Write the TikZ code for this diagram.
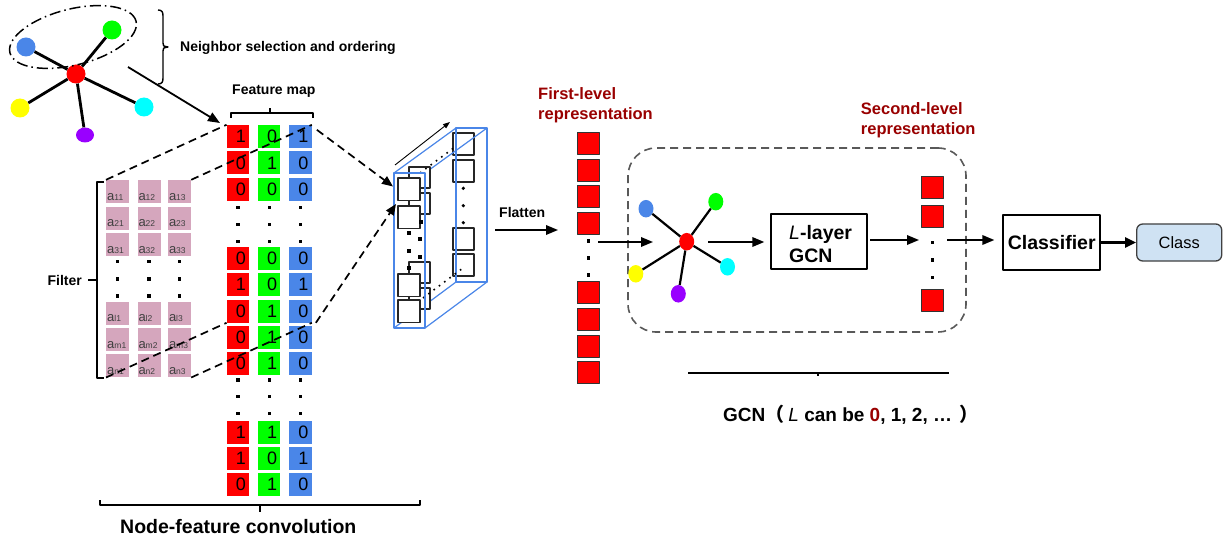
\documentclass[tikz,border=0pt]{standalone}
\usepackage{fontspec}
\setmainfont{Liberation Sans}
\newfontfamily\cjk{Noto Sans CJK SC}
\usetikzlibrary{arrows.meta,shapes.geometric}
\definecolor{cR}{HTML}{FF0000}
\definecolor{cG}{HTML}{00FF00}
\definecolor{cB}{HTML}{4A86E8}
\definecolor{cP}{HTML}{D5A6BD}
\definecolor{cY}{HTML}{FFFF00}
\definecolor{cC}{HTML}{00FFFF}
\definecolor{cV}{HTML}{9900FF}
\definecolor{dred}{HTML}{990000}
\definecolor{lblue}{HTML}{CFE2F3}
\definecolor{boxgray}{HTML}{595959}
\tikzset{
 fmc/.style={rectangle,minimum width=22.5pt,minimum height=23pt,inner sep=0pt,font=\fontsize{18}{18}\selectfont},
 flc/.style={rectangle,minimum size=23pt,inner sep=0pt,fill=cP},
 flab/.style={anchor=base west,inner sep=0pt,xshift=1pt,yshift=3pt,text=black!75},
 dotn/.style={rectangle,fill=black,minimum size=3.4pt,inner sep=0pt},
 rsq/.style={rectangle,fill=cR,draw=black!80,line width=0.8pt,minimum size=22pt,inner sep=0pt},
 arr/.style={line width=1.8pt,-{Triangle[length=12pt,width=9.5pt]}},
 dln/.style={line width=1.7pt,dash pattern=on 8pt off 5pt},
 darr/.style={dln,-{Triangle[length=11pt,width=9pt]}},
 brace/.style={line width=1.4pt},
 gnode/.style={ellipse,minimum width=15pt,minimum height=17.5pt,inner sep=0pt},
 tnode/.style={circle,minimum size=19pt,inner sep=0pt},
 txt/.style={inner sep=0pt,anchor=base west},
 cubesq/.style={draw=black!85,line width=1.2pt,fill=white},
 cubeln/.style={draw=cB,line width=1.2pt},
}
\begin{document}
\begin{tikzpicture}[x=1pt,y=-1pt,line join=round]
\useasboundingbox (0,0) rectangle (1226,540);

% ---------- top-left graph ----------
\node[tnode,fill=cR] (tr) at (76,74) {};
\node[tnode,fill=cB] (tb) at (26,47) {};
\node[tnode,fill=cG] (tg) at (112,30) {};
\node[tnode,fill=cY] (ty) at (20,108) {};
\node[tnode,fill=cC] (tc) at (144,107) {};
\node[gnode,fill=cV,minimum width=18pt,minimum height=15pt] (tv) at (85,135) {};
\foreach \n in {tb,tg,ty,tc,tv} \draw[line width=2.8pt] (tr) -- (\n);
\draw[line width=1.5pt,dash pattern=on 11pt off 4pt on 1.5pt off 4pt,rotate around={14:(73,37)}]
  (73,37) ellipse [x radius=65pt,y radius=28pt];
% neighbour brace
\draw[brace] (158,10) .. controls (162,10) and (163,12) .. (163,16) -- (163,43)
  .. controls (163,46) .. (168,47) .. controls (163,48) .. (163,51) -- (163,78)
  .. controls (163,82) and (162,84) .. (158,84);
\node[txt,font=\bfseries\fontsize{14}{14}\selectfont] (tNeigh) at (180,51.7) {Neighbor selection and ordering};
\coordinate (gOut) at (128,67);
\coordinate (fmIn) at (220,123);
\draw[arr] (gOut) -- (fmIn);

% ---------- feature map ----------
\node[txt,font=\bfseries\fontsize{14}{14}\selectfont] (tFM) at (232,95) {Feature map};
\draw[brace] (231,118) -- (231,113) -- (313,113) -- (313,118);
\draw[brace] (270,113) -- (270,108);
\foreach \i/\y/\a/\b/\c in {1/125/1/0/1,2/151.5/0/1/0,3/178/0/0/0,4/247/0/0/0,5/273.3/1/0/1,6/299.6/0/1/0,7/325.9/0/1/0,8/352.2/0/1/0,9/420.5/1/1/0,10/446.8/1/0/1,11/473.1/0/1/0}{
  \node[fmc,fill=cR] (fmr\i) at (238,\y+11.5) {\hspace*{6pt}\a};
  \node[fmc,fill=cG] (fmg\i) at (269.2,\y+11.5) {\hspace*{6pt}\b};
  \node[fmc,fill=cB] (fmb\i) at (300.4,\y+11.5) {\hspace*{6pt}\c};
}
\foreach \y [count=\k] in {207.3,224.3,241.7,380,396.7,413.3}{
  \node[dotn] (fmdr\k) at (238,\y) {};
  \node[dotn] (fmdg\k) at (269.2,\y) {};
  \node[dotn] (fmdb\k) at (300.4,\y) {};
}

% ---------- filter ----------
\foreach \s/\y in {1/191.5,2/218.2,3/244.8,l/313.2,m/339.8,n/365.8}{
  \foreach \j/\x in {1/117.7,2/149,3/179.5}{
    \node[flc,label={[flab]south west:{\fontsize{13}{13}\selectfont a}{\fontsize{8.5}{8.5}\selectfont\s\j}}] (fl\s\j) at (\x,\y) {};
  }
}
\foreach \y [count=\k] in {261.7,279,296}{
  \node[dotn] (fld1\k) at (117.7,\y) {};
  \node[dotn] (fld2\k) at (149,\y) {};
  \node[dotn] (fld3\k) at (179.5,\y) {};
}
\draw[line width=1.6pt] (104,182) -- (97,182) -- (97,378) -- (104,378);
\draw[line width=2pt] (97,280) -- (88,280);
\node[inner sep=0pt,anchor=base east,font=\bfseries\fontsize{14}{14}\selectfont] (tFilter) at (82,285.7) {Filter};

% bottom brace
\draw[brace] (100,500) -- (100,505) -- (420,505) -- (420,500);
\draw[brace] (260,505) -- (260,512);
\node[txt,font=\bfseries\fontsize{19.5}{19.5}\selectfont] (tNFC) at (120,533.3) {Node-feature convolution};

% ---------- cube ----------
\foreach \y in {133,160,228,254}{\draw[cubesq] (453,\y) rectangle ++(21,22);}
\foreach \y in {188.3,205.7,222.7}{\fill (463.3,\y) circle (1.8pt);}
\draw[draw=cB,line width=2pt] (456,128) rectangle (487,282);
\draw[cubeln] (394,173) -- (456,128) (425,173) -- (487,128) (394,328) -- (456,282) (425,328) -- (487,282);
\foreach \y in {167,193,262,288}{\draw[cubesq] (409,\y) rectangle ++(21,21);}
\draw[line width=1.6pt,dash pattern=on 1.6pt off 5pt] (420,173) -- (455,147);
\draw[line width=1.6pt,dash pattern=on 1.6pt off 5pt] (423,298) -- (463,268);
\foreach \y in {178,206,274,300}{\draw[cubesq] (398,\y) rectangle ++(22,22.5);}
\foreach \x/\y in {409/233,409/251,420/239,420/257,409/268,421/222}{\fill (\x-1.7,\y-1.7) rectangle ++(3.4,3.4);}
\draw[cubeln] (394,173) rectangle (425,328);
\coordinate (cubeA) at (395,165);
\coordinate (cubeB) at (450,122);
\draw[line width=0.9pt,-{Triangle[length=7pt,width=5pt]}] (cubeA) -- (cubeB);
\coordinate (cin1) at (393,186.5);
\coordinate (cin2) at (396,204);

% ---------- dashed mapping lines ----------
\draw[dln] (fl11.north west) -- (fmr1.north west);
\draw[dln] (fl13.north east) -- (fmb1.north east);
\draw[dln] (fln1.south west) -- (fmr6.south west);
\draw[dln] (fln3.south east) -- (fmb6.south east);
\draw[darr] ([shift={(5,5)}]fmb1.north east) -- (cin1);
\draw[darr] ([shift={(4,0)}]fmb6.south east) -- (cin2);

% ---------- flatten ----------
\node[txt,font=\bfseries\fontsize{14}{14}\selectfont] (tFlat) at (499,218) {Flatten};
\coordinate (cubeOut) at (495,230);
\coordinate (flIn) at (558,230);
\draw[arr] (cubeOut) -- (flIn);

% ---------- first-level ----------
\node[txt,font=\bfseries\fontsize{16.5}{16.5}\selectfont,text=dred] (tFirstA) at (538,99.3) {First-level};
\node[txt,font=\bfseries\fontsize{16.5}{16.5}\selectfont,text=dred] (tFirstB) at (538,119.7) {representation};
\foreach \y [count=\k] in {132.3,159,185.7,212.3,281.7,308.3,335,361.7}{
  \node[rsq] (fs\k) at (588.3,\y+11) {};
}
\foreach \y [count=\k] in {241,258,275}{\node[dotn] (fsd\k) at (588.3,\y) {};}

% ---------- GCN box ----------
\node[draw=boxgray,line width=1.6pt,dash pattern=on 8pt off 5pt,rounded corners=28pt,minimum width=338pt,minimum height=184pt,inner sep=0pt] (gcnbox) at (797,240) {};
\node[gnode,fill=cR] (gr) at (686.7,241.7) {};
\node[gnode,fill=cB] (gb) at (646,208.7) {};
\node[gnode,fill=cG] (gg) at (715.8,201.7) {};
\node[gnode,fill=cY] (gy) at (635.8,273.8) {};
\node[gnode,fill=cC] (gc) at (727.5,266.8) {};
\node[gnode,fill=cV] (gv) at (678.3,293.8) {};
\foreach \n in {gb,gg,gy,gc,gv} \draw[line width=2.2pt] (gr) -- (\n);
\coordinate (fsOut) at (598,242);
\coordinate (gIn) at (653,242);
\draw[arr] (fsOut) -- (gIn);

\node[draw,line width=2pt,minimum width=95.4pt,minimum height=55.3pt,inner sep=0pt] (lgcn) at (819,241.6) {};
\node[txt,font=\bfseries\fontsize{19.5}{19.5}\selectfont] (lgcnA) at (789,239.3) {{\mdseries\itshape L}-layer};
\node[txt,font=\bfseries\fontsize{19.5}{19.5}\selectfont] (lgcnB) at (789,262.7) {GCN};
\coordinate (gOut2) at (708,242);
\draw[arr,shorten >=6pt] (gOut2) -- (lgcn.west |- gOut2);

\node[txt,font=\bfseries\fontsize{16.5}{16.5}\selectfont,text=dred] (tSecA) at (860.7,115) {Second-level};
\node[txt,font=\bfseries\fontsize{16.5}{16.5}\selectfont,text=dred] (tSecB) at (860.7,135) {representation};
\foreach \y [count=\k] in {176.7,205,289.3}{\node[rsq] (ss\k) at (932.2,\y+11) {};}
\foreach \y [count=\k] in {242.3,260,277.3}{\node[dotn] (ssd\k) at (932.7,\y) {};}
\coordinate (lgOut) at (870,240);
\coordinate (ssIn) at (919,240);
\draw[arr] (lgOut) -- (ssIn);

% ---------- classifier ----------
\node[draw,line width=2pt,minimum width=96.7pt,minimum height=55pt,inner sep=0pt,font=\bfseries\fontsize{19.5}{19.5}\selectfont] (cls) at (1051.7,242.5) {Classifier};
\node[draw=black!75,line width=1.3pt,fill=lblue,rounded corners=6pt,minimum width=85pt,minimum height=37pt,inner sep=0pt,font=\fontsize{16.4}{16.4}\selectfont] (class) at (1179.2,242.5) {Class};
\coordinate (ssOut) at (947,240);
\draw[arr,shorten >=8pt] (ssOut) -- (cls.west |- ssOut);
\draw[line width=2.6pt,-{Triangle[length=11pt,width=10pt]}] (cls.east) -- (class.west);

% ---------- GCN brace and caption ----------
\draw[line width=1.6pt] (688,373) -- (949,373);
\draw[line width=1.4pt] (818,373) -- (818,375.5);
\node[txt,font=\bfseries\fontsize{19}{19}\selectfont] (tGCN) at (723,421.7)
  {GCN{\cjk （}\hspace{4pt}{\mdseries\itshape L} can be \textcolor{dred}{0}, 1, 2, … \hspace{2pt}{\cjk ）}};
\end{tikzpicture}
\end{document}
